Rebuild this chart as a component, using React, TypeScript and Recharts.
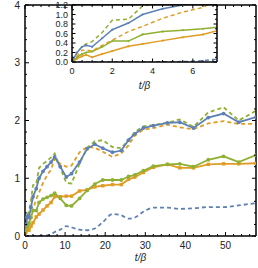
import { LineChart, Line, XAxis, YAxis, CartesianGrid } from 'recharts';

// t/beta sample points (shared by main plot and inset)
const tValues = [0, 0.25, 0.5, 0.7, 1.0, 1.5, 2.0, 2.8, 3.5, 4.5, 5.5, 6.5, 7.4, 8.8, 10.3, 11.6, 13.6, 15.5, 17.4, 19.4, 21.8, 24, 25.8, 27.4, 29.5, 32, 35.5, 38.6, 42, 45.7, 49.5, 53.3, 57.6];

const blueSolid = [0, 0.2, 0.32, 0.35, 0.32, 0.5, 0.68, 0.82, 1.0, 1.12, 1.2, 1.28, 1.37, 1.2, 1.02, 1.08, 1.28, 1.51, 1.59, 1.52, 1.45, 1.48, 1.66, 1.77, 1.87, 1.91, 1.96, 1.97, 1.87, 2.05, 2.12, 1.97, 2.06];
const greenDashed = [0, 0.2, 0.33, 0.38, 0.43, 0.62, 0.88, 0.9, 1.18, 1.25, 1.3, 1.36, 1.43, 1.18, 0.92, 0.91, 1.25, 1.53, 1.64, 1.66, 1.54, 1.52, 1.66, 1.8, 1.9, 1.92, 1.96, 2.02, 1.89, 2.14, 2.23, 2.0, 2.17];
const orangeDashed = [0, 0.12, 0.25, 0.25, 0.23, 0.35, 0.46, 0.64, 0.75, 0.92, 1.05, 1.15, 1.34, 1.25, 1.2, 1.22, 1.45, 1.54, 1.53, 1.46, 1.37, 1.43, 1.57, 1.74, 1.84, 1.87, 1.93, 1.88, 1.85, 1.95, 1.99, 1.94, 1.94];
const greenSolid = [0, 0.1, 0.17, 0.2, 0.22, 0.32, 0.44, 0.44, 0.58, 0.64, 0.67, 0.7, 0.74, 0.65, 0.53, 0.52, 0.65, 0.79, 0.9, 0.97, 0.97, 0.97, 1.03, 1.06, 1.13, 1.21, 1.24, 1.25, 1.2, 1.32, 1.38, 1.28, 1.4];
const orangeSolid = [0, 0.07, 0.12, 0.15, 0.1, 0.17, 0.23, 0.33, 0.38, 0.45, 0.52, 0.58, 0.68, 0.68, 0.69, 0.69, 0.78, 0.8, 0.85, 0.87, 0.89, 0.89, 0.98, 1.02, 1.1, 1.19, 1.24, 1.18, 1.18, 1.24, 1.25, 1.25, 1.26];
const blueDashed = [0, 0, 0, 0, 0, 0, 0, 0, 0, 0.005, 0.01, 0.03, 0.07, 0.11, 0.17, 0.15, 0.11, 0.1, 0.13, 0.24, 0.38, 0.36, 0.3, 0.32, 0.42, 0.49, 0.49, 0.47, 0.48, 0.5, 0.5, 0.53, 0.57];

const mainXMajor = [0, 10, 20, 30, 40, 50];
const mainYMajor = [0, 1, 2, 3, 4];
const insetXMajor = [0, 2, 4, 6];
const insetYMajor = [0, 0.2, 0.4, 0.6, 0.8, 1.0, 1.2];

const BLUE = '#5E81B5';
const ORANGE = '#E19C24';
const GREEN = '#8FB032';
const FONT = '"Liberation Sans", Arial, sans-serif';

const data = tValues.map((t, i) => ({
  t,
  blueSolid: blueSolid[i],
  greenDashed: greenDashed[i],
  orangeDashed: orangeDashed[i],
  greenSolid: greenSolid[i],
  orangeSolid: orangeSolid[i],
  blueDashed: blueDashed[i],
}));

const steps = (to: number, step: number) => {
  const out: number[] = [];
  for (let i = 0; i * step <= to + 1e-9; i++) out.push(Math.round(i * step * 1000) / 1000);
  return out;
};

const isMajor = (majors: number[], v: number) => majors.some((m) => Math.abs(m - v) < 1e-6);

// inward ticks drawn by hand so minor ticks can be shorter
const makeTick =
  (side: string, majors: number[], fontSize: number, gap: number, fmt: (v: number) => string, majorLen = 4, minorLen = 2) =>
  (props: any) => {
    const { x, y, payload } = props;
    const v = payload.value;
    const major = isMajor(majors, v);
    const len = major ? majorLen : minorLen;
    let line;
    if (side === 'bottom') line = <line x1={x} y1={y} x2={x} y2={y - len} stroke="#000" strokeWidth={1} />;
    else if (side === 'top') line = <line x1={x} y1={y} x2={x} y2={y + len} stroke="#000" strokeWidth={1} />;
    else if (side === 'left') line = <line x1={x} y1={y} x2={x + len} y2={y} stroke="#000" strokeWidth={1} />;
    else line = <line x1={x} y1={y} x2={x - len} y2={y} stroke="#000" strokeWidth={1} />;
    let label = null;
    if (major && side === 'bottom')
      label = (
        <text x={x} y={y + gap} dy="0.71em" textAnchor="middle" fontSize={fontSize} fontFamily={FONT} fill="#222">
          {fmt(v)}
        </text>
      );
    if (major && side === 'left')
      label = (
        <text x={x - gap} y={y} dy="0.355em" textAnchor="end" fontSize={fontSize} fontFamily={FONT} fill="#222">
          {fmt(v)}
        </text>
      );
    return (
      <g>
        {line}
        {label}
      </g>
    );
  };

const squareDot = (size: number) => (p: any) => {
  if (p.cx == null || p.cy == null) return <g key={p.index} />;
  return <rect key={p.index} x={p.cx - size / 2} y={p.cy - size / 2} width={size} height={size} fill={ORANGE} />;
};

const axisLine = { stroke: '#000', strokeWidth: 1.5 };

const renderSeries = (dotR: number, sw: number) => [
  <Line key="bd" type="monotone" dataKey="blueDashed" stroke={BLUE} strokeWidth={sw} strokeDasharray="4 3" dot={false} isAnimationActive={false} />,
  <Line key="os" type="linear" dataKey="orangeSolid" stroke={ORANGE} strokeWidth={sw} dot={squareDot(dotR * 1.8)} isAnimationActive={false} />,
  <Line key="gs" type="linear" dataKey="greenSolid" stroke={GREEN} strokeWidth={sw} dot={{ r: dotR, fill: GREEN, stroke: 'none' }} isAnimationActive={false} />,
  <Line key="od" type="linear" dataKey="orangeDashed" stroke={ORANGE} strokeWidth={sw} strokeDasharray="4 3" dot={false} isAnimationActive={false} />,
  <Line key="gd" type="linear" dataKey="greenDashed" stroke={GREEN} strokeWidth={sw} strokeDasharray="4 3" dot={false} isAnimationActive={false} />,
  <Line key="bs" type="linear" dataKey="blueSolid" stroke={BLUE} strokeWidth={sw} dot={{ r: dotR, fill: BLUE, stroke: 'none' }} isAnimationActive={false} />,
];

const MainChart = () => {
  const xTicks = steps(56, 2);
  const yTicks = steps(4, 0.2);
  return (
    <LineChart width={258} height={268} data={data} margin={{ top: 4, right: 1, bottom: 0, left: 0 }}>
      <XAxis
        dataKey="t"
        type="number"
        domain={[0, 57.6]}
        allowDataOverflow
        ticks={xTicks}
        interval={0}
        height={32}
        tickSize={0}
        tickMargin={0}
        axisLine={axisLine}
        tickLine={false}
        tick={makeTick('bottom', mainXMajor, 10, 6, (v) => String(v))}
        label={{ value: 't/β', position: 'insideBottom', offset: 7, fontSize: 10, fontFamily: FONT, fill: '#222', fontStyle: 'italic' }}
      />
      <XAxis
        xAxisId="top"
        dataKey="t"
        orientation="top"
        type="number"
        domain={[0, 57.6]}
        allowDataOverflow
        ticks={xTicks}
        interval={0}
        height={1}
        tickSize={0}
        tickMargin={0}
        axisLine={axisLine}
        tickLine={false}
        tick={makeTick('top', mainXMajor, 10, 6, (v) => String(v))}
      />
      <YAxis
        type="number"
        domain={[0, 4]}
        allowDataOverflow
        ticks={yTicks}
        interval={0}
        width={25}
        tickSize={0}
        tickMargin={0}
        axisLine={axisLine}
        tickLine={false}
        tick={makeTick('left', mainYMajor, 10, 5, (v) => String(v))}
      />
      <YAxis
        yAxisId="right"
        orientation="right"
        type="number"
        domain={[0, 4]}
        allowDataOverflow
        ticks={yTicks}
        interval={0}
        width={1}
        tickSize={0}
        tickMargin={0}
        axisLine={axisLine}
        tickLine={false}
        tick={makeTick('right', mainYMajor, 10, 5, (v) => String(v))}
      />
      {renderSeries(1.9, 1.8)}
    </LineChart>
  );
};

const InsetChart = () => {
  const xTicks = steps(7, 0.5);
  const yTicks = steps(1.2, 0.1);
  return (
    <LineChart width={180} height={100} data={data} margin={{ top: 4, right: 2, bottom: 0, left: 0 }}>
      <CartesianGrid horizontal={false} vertical={false} fill="#fff" stroke="none" />
      <XAxis
        dataKey="t"
        type="number"
        domain={[0, 7.2]}
        allowDataOverflow
        ticks={xTicks}
        interval={0}
        height={38}
        tickSize={0}
        tickMargin={0}
        axisLine={axisLine}
        tickLine={false}
        tick={makeTick('bottom', insetXMajor, 9, 6, (v) => String(v), 3.5, 2)}
        label={{ value: 't/β', position: 'insideBottom', offset: 11, fontSize: 10, fontFamily: FONT, fill: '#222', fontStyle: 'italic' }}
      />
      <XAxis
        xAxisId="top"
        dataKey="t"
        orientation="top"
        type="number"
        domain={[0, 7.2]}
        allowDataOverflow
        ticks={xTicks}
        interval={0}
        height={1}
        tickSize={0}
        tickMargin={0}
        axisLine={axisLine}
        tickLine={false}
        tick={makeTick('top', insetXMajor, 9, 6, (v) => String(v), 3.5, 2)}
      />
      <YAxis
        type="number"
        domain={[0, 1.2]}
        allowDataOverflow
        ticks={yTicks}
        interval={0}
        width={32}
        tickSize={0}
        tickMargin={0}
        axisLine={axisLine}
        tickLine={false}
        tick={makeTick('left', insetYMajor, 9, 4, (v) => v.toFixed(1), 3.5, 2)}
      />
      <YAxis
        yAxisId="right"
        orientation="right"
        type="number"
        domain={[0, 1.2]}
        allowDataOverflow
        ticks={yTicks}
        interval={0}
        width={1}
        tickSize={0}
        tickMargin={0}
        axisLine={axisLine}
        tickLine={false}
        tick={makeTick('right', insetYMajor, 9, 4, (v) => v.toFixed(1), 3.5, 2)}
      />
      {renderSeries(1.1, 1.5)}
    </LineChart>
  );
};

export default function App() {
  return (
    <div style={{ position: 'absolute', left: 0, top: 0, width: 258, height: 268, background: '#fff' }}>
      <MainChart />
      <div style={{ position: 'absolute', left: 40, top: 0 }}>
        <InsetChart />
      </div>
    </div>
  );
}
